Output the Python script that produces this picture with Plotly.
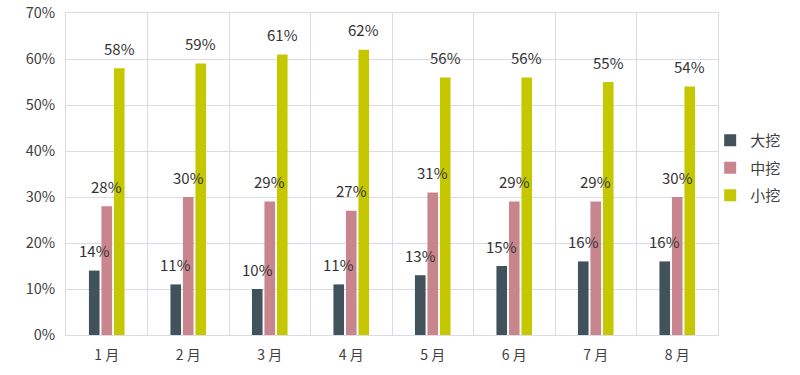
import plotly.graph_objects as go

months = ["1 月", "2 月", "3 月", "4 月", "5 月", "6 月", "7 月", "8 月"]
series_names = ["大挖", "中挖", "小挖"]
da_wa = [14, 11, 10, 11, 13, 15, 16, 16]
zhong_wa = [28, 30, 29, 27, 31, 29, 29, 30]
xiao_wa = [58, 59, 61, 62, 56, 56, 55, 54]
colors = ["#41525a", "#c8858d", "#c5c800"]

series = [da_wa, zhong_wa, xiao_wa]

W, H = 800, 375
ML, MR, MT, MB = 66, 82, 13, 40
BARGAP = 0.54
plot_w = W - ML - MR
cat_w = plot_w / len(months)
slot = cat_w * (1 - BARGAP) / len(series)

fig = go.Figure()
font_family = "Noto Sans CJK SC, Open Sans, sans-serif"

for i, (name, vals, col) in enumerate(zip(series_names, series, colors)):
    fig.add_trace(go.Bar(
        x=months, y=[v / 100 for v in vals], name=name,
        legendgroup=name,
        marker=dict(color=col, line=dict(width=0)),
    ))
    off = (i - (len(series) - 1) / 2) * slot
    for m, v in zip(months, vals):
        fig.add_annotation(
            x=m, y=v / 100, text=f"{v}%", showarrow=False,
            xshift=off, yshift=20,
            font=dict(family=font_family, size=15, color="#333333"),
        )

grid = "#d9dce8"
fig.update_layout(
    width=W, height=H,
    margin=dict(l=ML, r=MR, t=MT, b=MB, autoexpand=False),
    paper_bgcolor="white", plot_bgcolor="white",
    barmode="group", bargap=BARGAP, bargroupgap=0.15,
    font=dict(family=font_family, color="#404040"),
    legend=dict(
        x=0.988, xanchor="left", y=0.655, yanchor="top",
        bgcolor="rgba(0,0,0,0)",
        font=dict(size=15, color="#404040"),
        tracegroupgap=5, itemwidth=30,
    ),
    showlegend=True,
)
fig.update_xaxes(
    type="category", tickson="boundaries", showgrid=True, gridcolor=grid,
    gridwidth=1, showline=True, linecolor=grid, linewidth=1, mirror=True,
    ticks="", tickfont=dict(size=14, color="#404040"), automargin=False,
    ticklabelstandoff=7,
)
fig.update_yaxes(
    range=[0, 0.7], dtick=0.1, tickformat=".0%", showgrid=True,
    gridcolor=grid, gridwidth=1, showline=True, linecolor=grid, linewidth=1,
    mirror=True, zeroline=False, ticks="", automargin=False,
    tickfont=dict(size=14.5, color="#404040"), ticklabelstandoff=7,
    ticklabeloverflow="allow",
)

fig.write_html(
    "out.html",
    config={"displayModeBar": False},
    post_script="document.body.style.margin='0px';",
)
